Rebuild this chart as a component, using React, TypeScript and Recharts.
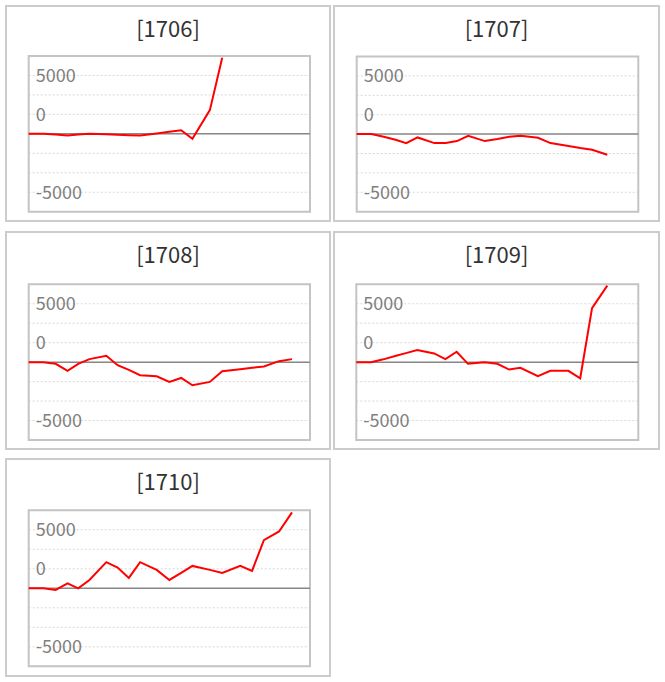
import React from "react";
import { LineChart, Line, XAxis, YAxis, CartesianGrid, ReferenceLine, ReferenceArea } from "recharts";

// shared x positions (time index) of the daily points
const T = [0, 2.6, 4.8, 6.9, 8.8, 10.8, 13.8, 15.8, 17.8, 19.8, 22.75, 25, 27.1, 29.1, 32.2, 34.4, 37.6, 39.7, 41.8, 44.5, 46.8];

const TITLES = ["[1706]", "[1707]", "[1708]", "[1709]", "[1710]"];

const S1706 = [0, 0, -90, -215, -90, 0, -40, -130, -170, -215, 40, 260, 470, -640, 3050, 9780];
const S1707 = [0, 0, -340, -730, -1160, -430, -1160, -1160, -900, -215, -900, -640, -340, -215, -470, -1160, -1540, -1800, -2020, -2660];
const S1708 = [0, 0, -215, -1120, -215, 390, 820, -390, -990, -1680, -1810, -2540, -2030, -2970, -2540, -1160, -900, -730, -560, 130, 390];
const S1709 = [0, 0, 360, 780, 1160, 1550, 1120, 390, 1340, -215, 0, -215, -950, -730, -1810, -1120, -1120, -2070, 6940, 9830];
const S1710 = [0, 0, -215, 640, 0, 1070, 3350, 2660, 1330, 3350, 2360, 1070, 1970, 2870, 2360, 1970, 2870, 2230, 6180, 7290, 9740];

const SERIES = [S1706, S1707, S1708, S1709, S1710];

const Y_TICKS = [-10000, -7500, -5000, -2500, 0, 2500, 5000, 7500, 10000];
const Y_LABEL_AT = [7500, 2500, -7500];
const Y_LABEL_TEXT = ["5000", "0", "-5000"];
const X_DOMAIN = [0, 50];
const Y_DOMAIN = [-10000, 10000];

// layout: panel boxes and plot areas (absolute px)
const LAYOUT = [
  { box: [5, 5, 326, 217], plot: [28.7, 56, 310, 211.7] },
  { box: [333, 5, 327, 217], plot: [356.7, 56.5, 638.3, 211.7] },
  { box: [5, 231, 326, 219], plot: [28.7, 284.3, 310, 440] },
  { box: [333, 231, 327, 219], plot: [356.3, 284.3, 638.3, 440] },
  { box: [5, 458, 326, 219], plot: [28.7, 510.3, 310, 666.3] },
];

const FONT = '"Noto Sans CJK JP", "Noto Sans", sans-serif';

function makeTick(left: number) {
  return (props: any) => {
    const { y, payload } = props;
    const idx = Y_LABEL_AT.indexOf(payload.value);
    if (idx < 0) return <g />;
    return (
      <text x={left + 7} y={y} dy="0.36em" textAnchor="start" fontSize={18} fill="#808080" fontFamily={FONT}>
        {Y_LABEL_TEXT[idx]}
      </text>
    );
  };
}

function Panel({ i }: { i: number }) {
  const { box, plot } = LAYOUT[i];
  const [bx, by, bw, bh] = box;
  const [pl, pt, pr, pb] = plot;
  const series = SERIES[i];
  const data = series.map((v, k) => ({ t: T[k], v }));
  const margin = { left: pl - bx, top: pt - by, right: bx + bw - pr, bottom: by + bh - pb };
  return (
    <>
      <div
        style={{
          position: "absolute",
          left: bx,
          top: by,
          width: bw,
          height: bh,
          border: "2px solid #cccccc",
          boxSizing: "border-box",
        }}
      />
      <div
        style={{
          position: "absolute",
          left: bx,
          top: by + 7,
          width: bw,
          textAlign: "center",
          fontFamily: FONT,
          fontSize: 22,
          lineHeight: "30px",
          color: "#333",
        }}
      >
        {TITLES[i]}
      </div>
      <div style={{ position: "absolute", left: bx, top: by }}>
        <LineChart width={bw} height={bh} data={data} margin={margin}>
          <CartesianGrid horizontal vertical={false} stroke="#d8d8d8" strokeDasharray="2 2" />
          <XAxis dataKey="t" type="number" domain={X_DOMAIN} hide />
          <YAxis
            type="number"
            domain={Y_DOMAIN}
            ticks={Y_TICKS}
            mirror
            axisLine={false}
            tickLine={false}
            interval={0}
            tick={makeTick(margin.left)}
          />
          <ReferenceLine y={0} stroke="#888888" strokeWidth={1.5} />
          <Line
            dataKey="v"
            type="linear"
            stroke="#ff0000"
            strokeWidth={2}
            dot={false}
            isAnimationActive={false}
          />
          <ReferenceArea
            x1={X_DOMAIN[0]}
            x2={X_DOMAIN[1]}
            y1={Y_DOMAIN[0]}
            y2={Y_DOMAIN[1]}
            fill="none"
            stroke="#c4c4c4"
            strokeWidth={2}
          />
        </LineChart>
      </div>
    </>
  );
}

export default function App() {
  return (
    <div style={{ position: "absolute", left: 0, top: 0, width: 665, height: 682, background: "#fff" }}>
      {SERIES.map((_, i) => (
        <Panel key={i} i={i} />
      ))}
    </div>
  );
}
